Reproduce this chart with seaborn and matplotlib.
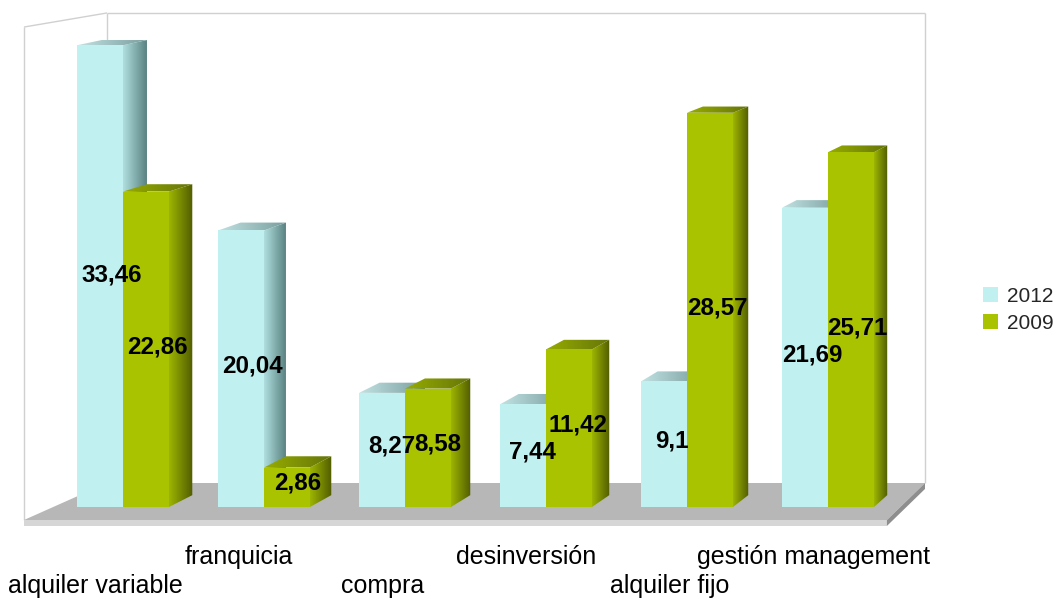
import numpy as np
import pandas as pd
import matplotlib
matplotlib.use("Agg")
import matplotlib.pyplot as plt
from matplotlib.patches import Polygon, Patch
from matplotlib.colors import to_rgb
import seaborn as sns

# --- data -------------------------------------------------------------------
categorias = ["alquiler variable", "franquicia", "compra", "desinversión",
              "alquiler fijo", "gestión management"]
anios = ["2012", "2009"]
valores_2012 = [33.46, 20.04, 8.27, 7.44, 9.1, 21.69]
valores_2009 = [22.86, 2.86, 8.58, 11.42, 28.57, 25.71]

# --- styling ----------------------------------------------------------------
colores = {"2012": "#C1F0F0", "2009": "#A9C300"}
lateral = {"2012": ("#B0DEDE", "#5A8282"), "2009": ("#9DB500", "#515C00")}
techo = {"2012": ("#C2E2E2", "#7A9E9E"), "2009": ("#96AC00", "#66750A")}

df = pd.DataFrame({
    "categoria": categorias * 2,
    "anio": ["2012"] * len(categorias) + ["2009"] * len(categorias),
    "valor": valores_2012 + valores_2009,
})

sns.set_theme(style="white")
plt.rcParams["font.family"] = ["Liberation Sans", "DejaVu Sans"]

fig = plt.figure(figsize=(10.57, 5.98), dpi=100)
ax = fig.add_axes([0, 0, 1, 1])

sns.barplot(data=df, x="categoria", y="valor", hue="anio", hue_order=anios,
            palette=colores, width=0.652, order=categorias, saturation=1,
            edgecolor="none", linewidth=0, ax=ax)

# perspective: depth edges run toward a vanishing point, bars are shallow
FUGA = np.array([11.89, 59.93])
PROF = 0.0143


def fondo(x, y):
    """Back point of a front point (x, y) along the depth direction."""
    p = np.array([x, y])
    return tuple(p + PROF * (FUGA - p))


def degradado(vertices, c0, c1, zorder):
    """Fill a polygon with a left-to-right colour gradient."""
    poly = Polygon(vertices, closed=True, facecolor="none", edgecolor="none",
                   zorder=zorder)
    ax.add_patch(poly)
    xs = [v[0] for v in vertices]
    ys = [v[1] for v in vertices]
    t = np.linspace(0, 1, 64)[:, None]
    rgb = (1 - t) * np.array(to_rgb(c0)) + t * np.array(to_rgb(c1))
    im = ax.imshow(rgb[None, :, :], extent=(min(xs), max(xs), min(ys), max(ys)),
                   aspect="auto", interpolation="bilinear", origin="lower",
                   zorder=zorder)
    im.set_clip_path(poly)


# --- room: floor and walls ----------------------------------------------------
suelo_frente_y, suelo_fondo_y = -0.942, 1.739
suelo_frente_x = (-0.702, 5.418)
suelo_fondo_x = (-0.113, 5.688)
pared_alto_izq, pared_alto = 34.78, 35.80
grosor = 0.43

ax.add_patch(Polygon([(suelo_frente_x[0], suelo_frente_y), (suelo_frente_x[1], suelo_frente_y),
                      (suelo_fondo_x[1], suelo_fondo_y), (suelo_fondo_x[0], suelo_fondo_y)],
                     closed=True, facecolor="#B7B7B7", edgecolor="none", zorder=1))
ax.add_patch(Polygon([(suelo_frente_x[0], suelo_frente_y), (suelo_frente_x[1], suelo_frente_y),
                      (suelo_frente_x[1], suelo_frente_y - grosor),
                      (suelo_frente_x[0], suelo_frente_y - grosor)],
                     closed=True, facecolor="#D6D6D6", edgecolor="none", zorder=1))
ax.add_patch(Polygon([(suelo_frente_x[1], suelo_frente_y), (suelo_fondo_x[1], suelo_fondo_y),
                      (suelo_fondo_x[1], suelo_fondo_y - grosor),
                      (suelo_frente_x[1], suelo_frente_y - grosor)],
                     closed=True, facecolor="#8E8E8E", edgecolor="none", zorder=1))

linea = dict(color="#D0D0D0", lw=1, zorder=0.5, solid_capstyle="butt")
ax.plot([suelo_frente_x[0], suelo_frente_x[0]], [suelo_frente_y, pared_alto_izq], **linea)
ax.plot([suelo_frente_x[0], suelo_fondo_x[0]], [pared_alto_izq, pared_alto], **linea)
ax.plot([suelo_fondo_x[0], suelo_fondo_x[1]], [pared_alto, pared_alto], **linea)
ax.plot([suelo_fondo_x[0], suelo_fondo_x[0]], [suelo_fondo_y, pared_alto], **linea)
ax.plot([suelo_fondo_x[1], suelo_fondo_x[1]], [suelo_fondo_y, pared_alto], **linea)

# --- 3D faces and value labels on every bar ------------------------------------
for k, (anio, cont) in enumerate(zip(anios, ax.containers)):
    z = 2 + k
    for barra in cont:
        barra.set_zorder(z)
        x0 = barra.get_x()
        w = barra.get_width()
        h = barra.get_height()
        x1 = x0 + w
        b_x1_0 = fondo(x1, 0)
        b_x1_h = fondo(x1, h)
        b_x0_h = fondo(x0, h)
        degradado([(x1, 0), b_x1_0, b_x1_h, (x1, h)], *lateral[anio], z)
        degradado([(x0, h), (x1, h), b_x1_h, b_x0_h], *techo[anio], z)
        etiqueta = f"{h:g}".replace(".", ",")
        xc = (x0 + b_x1_h[0]) / 2
        yc = b_x1_h[1] / 2 - 0.12
        ax.text(xc, yc, etiqueta, ha="center", va="center",
                fontsize=17.4, fontweight="bold", color="black", zorder=6)

# --- category labels projected onto the front edge of the floor ----------------------
f = suelo_fondo_y / (suelo_fondo_y - suelo_frente_y)
plano_izq = suelo_fondo_x[0] + f * (suelo_frente_x[0] - suelo_fondo_x[0])
plano_der = suelo_fondo_x[1] + f * (suelo_frente_x[1] - suelo_fondo_x[1])
escala = (suelo_frente_x[1] - suelo_frente_x[0]) / (plano_der - plano_izq)
for i, cat in enumerate(categorias):
    xl = suelo_frente_x[0] + (i - plano_izq) * escala
    yl = -4.13 if i % 2 else -6.23
    ax.text(xl, yl, cat, ha="center", va="baseline", fontsize=18, color="black")

# --- legend -----------------------------------------------------------------
handles = [Patch(facecolor=colores[a], edgecolor="none") for a in anios]
ax.legend(handles, anios, loc="upper left", bbox_to_anchor=(0.930, 0.520),
          frameon=False, fontsize=15, handlelength=0.72, handleheight=0.72,
          handletextpad=0.43, labelspacing=0.38, borderpad=0, borderaxespad=0)

ax.set_xlim(-0.8723, 6.6241)
ax.set_ylim(-6.594, 36.739)
ax.set_axis_off()

fig.savefig("out.png", dpi=100, facecolor="white")
